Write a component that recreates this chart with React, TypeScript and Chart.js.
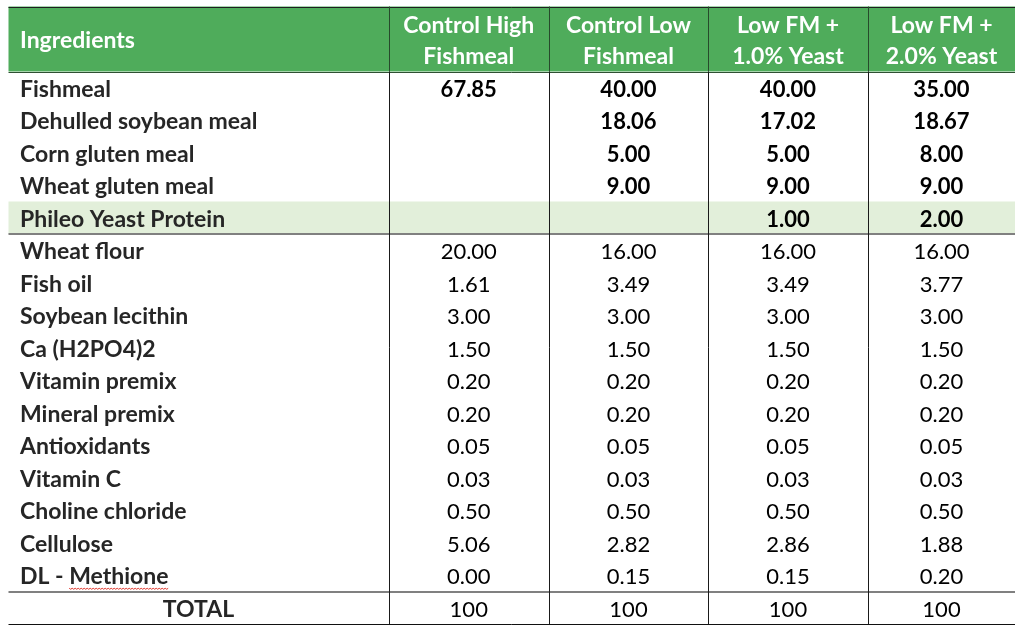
import React, { useEffect, useRef } from "react";
import { Chart, registerables } from "chart.js";

Chart.register(...registerables);

// ---------- data ----------
const headerFirst = "Ingredients";
const headerColumns: string[][] = [
  ["Control High", "Fishmeal"],
  ["Control Low", "Fishmeal"],
  ["Low FM +", "1.0% Yeast"],
  ["Low FM +", "2.0% Yeast"],
];
const ingredients = [
  "Fishmeal",
  "Dehulled soybean meal",
  "Corn gluten meal",
  "Wheat gluten meal",
  "Phileo Yeast Protein",
  "Wheat flour",
  "Fish oil",
  "Soybean lecithin",
  "Ca (H2PO4)2",
  "Vitamin premix",
  "Mineral premix",
  "Antioxidants",
  "Vitamin C",
  "Choline chloride",
  "Cellulose",
  "DL - Methione",
];
const controlHigh = [67.85, null, null, null, null, 20.0, 1.61, 3.0, 1.5, 0.2, 0.2, 0.05, 0.03, 0.5, 5.06, 0.0];
const controlLow = [40.0, 18.06, 5.0, 9.0, null, 16.0, 3.49, 3.0, 1.5, 0.2, 0.2, 0.05, 0.03, 0.5, 2.82, 0.15];
const lowFm1 = [40.0, 17.02, 5.0, 9.0, 1.0, 16.0, 3.49, 3.0, 1.5, 0.2, 0.2, 0.05, 0.03, 0.5, 2.86, 0.15];
const lowFm2 = [35.0, 18.67, 8.0, 9.0, 2.0, 16.0, 3.77, 3.0, 1.5, 0.2, 0.2, 0.05, 0.03, 0.5, 1.88, 0.2];
const totalLabel = "TOTAL";
const totals = [100, 100, 100, 100];

// ---------- layout / style (scale units) ----------
const series = [controlHigh, controlLow, lowFm1, lowFm2];
const colEdges = [0, 380, 540.5, 699.5, 859.5, 1006.5];
const headerUnits = 2;
const boldRowCount = 5;
const highlightRow = 4;
const separatorAfterRow = 4;
const misspelled = { row: 15, before: "DL - ", word: "Methione" };
const GREEN = "#4fac5b";
const LIGHT = "#e2efda";
const FONT = "Lato";
const FS_LABEL = 23;
const FS_NUM = 22;

const tablePlugin = {
  id: "tablePlugin",
  beforeDatasetsDraw(chart: any) {
    const { ctx } = chart;
    const xs = chart.scales.x;
    const ys = chart.scales.y;
    const X = (v: number) => xs.getPixelForValue(v);
    const Y = (v: number) => ys.getPixelForValue(v);
    const nRows = ingredients.length;
    const left = X(colEdges[0]);
    const right = X(colEdges[colEdges.length - 1]);
    const top = Y(0);
    const bottom = Y(headerUnits + nRows + 1);
    ctx.save();

    // backgrounds
    ctx.fillStyle = GREEN;
    ctx.fillRect(left, top, right - left, Y(headerUnits) - top);
    ctx.fillStyle = LIGHT;
    const hy0 = Y(headerUnits + highlightRow);
    const hy1 = Y(headerUnits + highlightRow + 1);
    ctx.fillRect(left, hy0, right - left, hy1 - hy0);

    const hline = (yv: number, color: string, w: number) => {
      const py = Math.round(Y(yv)) + (w % 2 ? 0.5 : 0);
      ctx.strokeStyle = color;
      ctx.lineWidth = w;
      ctx.beginPath();
      ctx.moveTo(left, py);
      ctx.lineTo(right, py);
      ctx.stroke();
    };
    hline(0, "#1e1e1e", 1);
    hline(headerUnits, "#2f4f33", 1);
    hline(headerUnits + separatorAfterRow + 1, "#808080", 2);
    hline(headerUnits + nRows, "#808080", 2);
    hline(headerUnits + nRows + 1, "#111111", 1);

    // verticals
    ctx.lineWidth = 1;
    for (let i = 1; i < colEdges.length - 1; i++) {
      const px = Math.round(X(colEdges[i])) + 0.5;
      ctx.strokeStyle = "#274a2b";
      ctx.beginPath();
      ctx.moveTo(px, top);
      ctx.lineTo(px, Y(headerUnits));
      ctx.stroke();
      ctx.strokeStyle = "#1a1a1a";
      ctx.beginPath();
      ctx.moveTo(px, Y(headerUnits));
      ctx.lineTo(px, bottom);
      ctx.stroke();
    }

    const colCenter = (c: number) => X((colEdges[c] + colEdges[c + 1]) / 2);
    const base = (rowCenter: number) => Y(rowCenter) + 9;

    // header
    ctx.fillStyle = "#ffffff";
    ctx.font = `bold ${FS_LABEL}px ${FONT}`;
    ctx.textAlign = "left";
    ctx.fillText(headerFirst, left + 11.5, base(headerUnits / 2) - 0.5);
    ctx.textAlign = "center";
    headerColumns.forEach((lines, i) => {
      lines.forEach((ln, j) => {
        ctx.fillText(ln, colCenter(i + 1), base(0.55 + j * 0.95));
      });
    });

    // rows
    ingredients.forEach((name, r) => {
      const yc = headerUnits + r + 0.5;
      ctx.font = `bold ${FS_LABEL}px ${FONT}`;
      ctx.fillStyle = "#262626";
      ctx.textAlign = "left";
      ctx.fillText(name, left + 11.5, base(yc));
      ctx.fillStyle = "#000000";
      ctx.textAlign = "center";
      ctx.font = `${r < boldRowCount ? "bold " : ""}${FS_NUM}px ${FONT}`;
      series.forEach((s, c) => {
        const v = s[r];
        if (v === null || v === undefined) return;
        ctx.fillText(v.toFixed(2), colCenter(c + 1), base(yc));
      });
    });

    // spell-check squiggle
    {
      const r = misspelled.row;
      ctx.font = `bold ${FS_LABEL}px ${FONT}`;
      const x0 = left + 11.5 + ctx.measureText(misspelled.before).width;
      const w = ctx.measureText(misspelled.word).width;
      const yy = base(headerUnits + r + 0.5) + 4;
      ctx.strokeStyle = "#e0352b";
      ctx.lineWidth = 1;
      ctx.beginPath();
      for (let k = 0; k <= w; k += 1.5) {
        const py = yy + (Math.floor(k / 1.5) % 2 ? 1 : 0);
        if (k === 0) ctx.moveTo(x0 + k, py);
        else ctx.lineTo(x0 + k, py);
      }
      ctx.stroke();
    }

    // total row
    const ty = headerUnits + nRows + 0.5;
    ctx.font = `bold ${FS_LABEL}px ${FONT}`;
    ctx.fillStyle = "#262626";
    ctx.textAlign = "center";
    ctx.fillText(totalLabel, colCenter(0), base(ty));
    ctx.font = `${FS_NUM}px ${FONT}`;
    ctx.fillStyle = "#000000";
    totals.forEach((t, c) => ctx.fillText(String(t), colCenter(c + 1), base(ty)));

    ctx.restore();
  },
};

export default function App() {
  const ref = useRef<HTMLCanvasElement | null>(null);
  useEffect(() => {
    if (!ref.current) return;
    const points: { x: number; y: number }[] = [];
    ingredients.forEach((_, r) =>
      series.forEach((s, c) => {
        if (s[r] !== null) points.push({ x: (colEdges[c + 1] + colEdges[c + 2]) / 2, y: headerUnits + r + 0.5 });
      })
    );
    const chart = new Chart(ref.current, {
      type: "scatter",
      data: { datasets: [{ data: points, pointRadius: 0, pointHoverRadius: 0 }] },
      options: {
        animation: false,
        responsive: false,
        devicePixelRatio: 1,
        events: [],
        layout: { padding: { left: 8.5, top: 6.5, right: 9, bottom: 10 } },
        plugins: { legend: { display: false }, tooltip: { enabled: false } },
        scales: {
          x: { type: "linear", display: false, min: 0, max: colEdges[colEdges.length - 1] },
          y: { type: "linear", display: false, min: 0, max: headerUnits + ingredients.length + 1, reverse: true },
        },
      },
      plugins: [tablePlugin],
    });
    return () => chart.destroy();
  }, []);
  return (
    <div style={{ position: "fixed", left: 0, top: 0, width: 1024, height: 634, background: "#fff" }}>
      <canvas ref={ref} width={1024} height={634} style={{ display: "block" }} />
    </div>
  );
}
